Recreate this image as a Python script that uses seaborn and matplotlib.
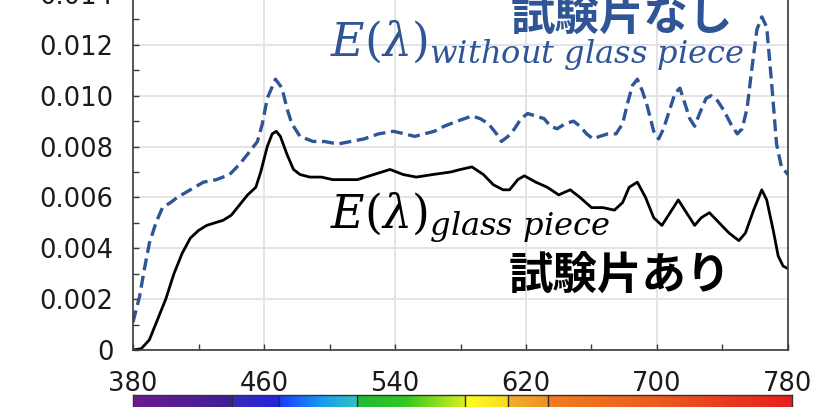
import numpy as np
import pandas as pd
import matplotlib
matplotlib.use("Agg")
import matplotlib.pyplot as plt
from matplotlib.colors import LinearSegmentedColormap, to_rgb
from matplotlib.ticker import FixedLocator, FuncFormatter
import seaborn as sns

# Spectral irradiance E(λ) with the glass piece in the beam (試験片あり)
wl_with = [380, 385, 390, 395, 400, 405, 410, 415, 420, 425, 430, 435, 440, 445,
           450, 455, 458, 462, 465, 467.5, 470, 474, 478, 482, 488, 495, 502, 510,
           517, 527, 537, 545, 553, 563, 574, 580, 587, 594, 600, 606, 610, 615,
           619, 626, 633, 640, 647, 653, 660, 667, 674, 679, 683, 688, 693, 698,
           703, 708, 713, 718, 723, 727, 732, 738, 744, 750, 754, 759, 764, 767,
           771, 774, 777, 780]
e_with = [0.0000, 0.00005, 0.0004, 0.0012, 0.0020, 0.0030, 0.0038, 0.0044, 0.0047,
          0.0049, 0.0050, 0.0051, 0.0053, 0.0057, 0.0061, 0.0064, 0.0070, 0.0080,
          0.0085, 0.0086, 0.0084, 0.0077, 0.0071, 0.0069, 0.0068, 0.0068, 0.0067,
          0.0067, 0.0067, 0.0069, 0.0071, 0.0069, 0.0068, 0.0069, 0.0070, 0.0071,
          0.0072, 0.0069, 0.0065, 0.0063, 0.0063, 0.0067, 0.00685, 0.0066, 0.0064,
          0.0061, 0.0063, 0.0060, 0.0056, 0.0056, 0.0055, 0.0058, 0.0064, 0.0066,
          0.0060, 0.0052, 0.0049, 0.0054, 0.0059, 0.0054, 0.0049, 0.0052, 0.0054,
          0.0050, 0.0046, 0.0043, 0.0046, 0.0055, 0.0063, 0.0059, 0.0047, 0.0037,
          0.0033, 0.0032]

# Spectral irradiance E(λ) without the glass piece (試験片なし)
wl_without = [380, 384, 387, 390, 394, 398, 403, 407, 415, 423, 431, 439, 445, 450,
              456, 459, 462, 467, 471, 474, 477, 482, 490, 497, 505, 513, 521, 530,
              539, 546, 552, 558, 564, 570, 578, 587, 592, 597, 602, 605, 609, 613,
              617, 621, 626, 631, 635, 639, 644, 649, 653, 657, 661, 665, 670, 675,
              679, 682, 685, 688, 691, 694, 698, 701, 704, 707, 711, 714, 717, 720,
              723, 726, 730, 733, 737, 741, 745, 749, 752, 755, 758, 761, 764, 767,
              770, 773, 776, 780]
e_without = [0.0011, 0.0021, 0.0032, 0.0042, 0.0050, 0.0056, 0.0058, 0.0060, 0.0063,
             0.0066, 0.0067, 0.0069, 0.0073, 0.0077, 0.0082, 0.0089, 0.0099, 0.01065,
             0.0103, 0.0095, 0.0089, 0.0084, 0.0082, 0.0082, 0.0081, 0.0082, 0.0083,
             0.0085, 0.0086, 0.0085, 0.0084, 0.0085, 0.0086, 0.0088, 0.0090, 0.0092,
             0.0091, 0.0089, 0.0085, 0.0082, 0.0084, 0.0087, 0.0091, 0.0093, 0.0092,
             0.0091, 0.0088, 0.0087, 0.0089, 0.0090, 0.0088, 0.0085, 0.0083, 0.0084,
             0.0085, 0.0085, 0.0089, 0.0097, 0.0104, 0.01065, 0.0102, 0.0096, 0.0086,
             0.0083, 0.0087, 0.0093, 0.0101, 0.0103, 0.0097, 0.0091, 0.0088, 0.0093,
             0.0099, 0.0100, 0.0098, 0.0094, 0.0089, 0.0085, 0.0087, 0.0095, 0.0111,
             0.0126, 0.0131, 0.0127, 0.0105, 0.0081, 0.0072, 0.0069]

x_ticks = [380, 460, 540, 620, 700, 780]
x_minor = [420, 500, 580, 660, 740]
y_ticks = [0, 0.002, 0.004, 0.006, 0.008, 0.010, 0.012, 0.014]

# colour-band boundaries of the spectrum strip (nm)
band_edges = [440, 469, 516, 582, 608, 632]

BLUE = "#2f5597"
INK = "#1a1a1a"

sns.set_theme(style="white")
plt.rcParams["font.family"] = ["DejaVu Sans"]
plt.rcParams["mathtext.fontset"] = "dejavuserif"

df_with = pd.DataFrame({"wl": wl_with, "E": e_with})
df_without = pd.DataFrame({"wl": wl_without, "E": e_without})

W, H = 814, 407
fig = plt.figure(figsize=(W / 100, H / 100), dpi=100)
ax = fig.add_axes([133 / W, 57 / H, (788 - 133) / W, (350 + 6) / H])

sns.lineplot(data=df_without, x="wl", y="E", ax=ax, color=BLUE, lw=2.4,
             linestyle=(0, (3.6, 1.7)), dash_capstyle="butt", sort=False)
sns.lineplot(data=df_with, x="wl", y="E", ax=ax, color="black", lw=2.0, sort=False)

ax.set_xlim(380, 780)
ax.set_ylim(0, 0.014)
ax.set_xlabel("")
ax.set_ylabel("")

ax.xaxis.set_major_locator(FixedLocator(x_ticks))
ax.xaxis.set_minor_locator(FixedLocator(x_minor))
ax.yaxis.set_major_locator(FixedLocator(y_ticks))
ax.yaxis.set_minor_locator(FixedLocator([v + 0.001 for v in y_ticks[:-1]]))
ax.yaxis.set_major_formatter(FuncFormatter(lambda v, p: "0" if abs(v) < 1e-12 else f"{v:.3f}"))

ax.grid(True, which="major", color="#e4e4e4", lw=1.4)
ax.set_axisbelow(True)
for side in ["left", "bottom", "right", "top"]:
    ax.spines[side].set_visible(True)
    ax.spines[side].set_color("#3a3a3a")
    ax.spines[side].set_linewidth(1.2)

ax.tick_params(axis="both", which="both", direction="in", length=4, width=1,
               color="#3a3a3a", labelsize=18.5, labelcolor=INK)
ax.tick_params(axis="y", which="both", left=True, right=False, pad=14)
ax.tick_params(axis="x", which="both", bottom=True, top=False, pad=15)

# curve labels
ax.text(500.3, 0.01157, r"$E(\lambda)_{without\ glass\ piece}$", color=BLUE,
        fontsize=33, ha="left", va="baseline")
ax.text(500.3, 0.00482, r"$E(\lambda)_{glass\ piece}$", color="black",
        fontsize=33, ha="left", va="baseline")
ax.text(678.6, 0.01306, "試験片なし", color=BLUE, fontsize=32, fontweight="bold",
        family=["Noto Sans CJK JP", "DejaVu Sans"], ha="center", va="center")
ax.text(677.4, 0.00286, "試験片あり", color="black", fontsize=32, fontweight="bold",
        family=["Noto Sans CJK JP", "DejaVu Sans"], ha="center", va="center")

# visible-spectrum strip under the axis
stops = [(380, "#6e1a8e"), (439.9, "#3d1f99"), (440, "#3a2ab8"), (468.9, "#2222e0"),
         (469, "#1a3cff"), (495, "#1a9cf0"), (515.9, "#2ec4c0"), (516, "#22b83c"),
         (545, "#30c820"), (581.9, "#d8f020"), (582, "#ffff22"), (607.9, "#f8d820"),
         (608, "#f0b030"), (631.9, "#f09020"), (632, "#f07e1e"), (700, "#ec5a20"),
         (780, "#e61e1e")]
cmap = LinearSegmentedColormap.from_list(
    "spectrum", [((w - 380) / 400, to_rgb(c)) for w, c in stops], N=1024)
cax = fig.add_axes([132.7 / W, -4 / H, (791.7 - 132.7) / W, (H - 395 + 4) / H])
cax.imshow(np.linspace(0, 1, 1024)[None, :], cmap=cmap, aspect="auto",
           extent=[380, 780, 0, 1])
for edge in band_edges:
    cax.axvline(edge, color="#2a2a2a", lw=1)
cax.set_xlim(380, 780)
cax.set_xticks([])
cax.set_yticks([])
for s in cax.spines.values():
    s.set_color("#333333")
    s.set_linewidth(1)

fig.savefig("out.png", dpi=100)
